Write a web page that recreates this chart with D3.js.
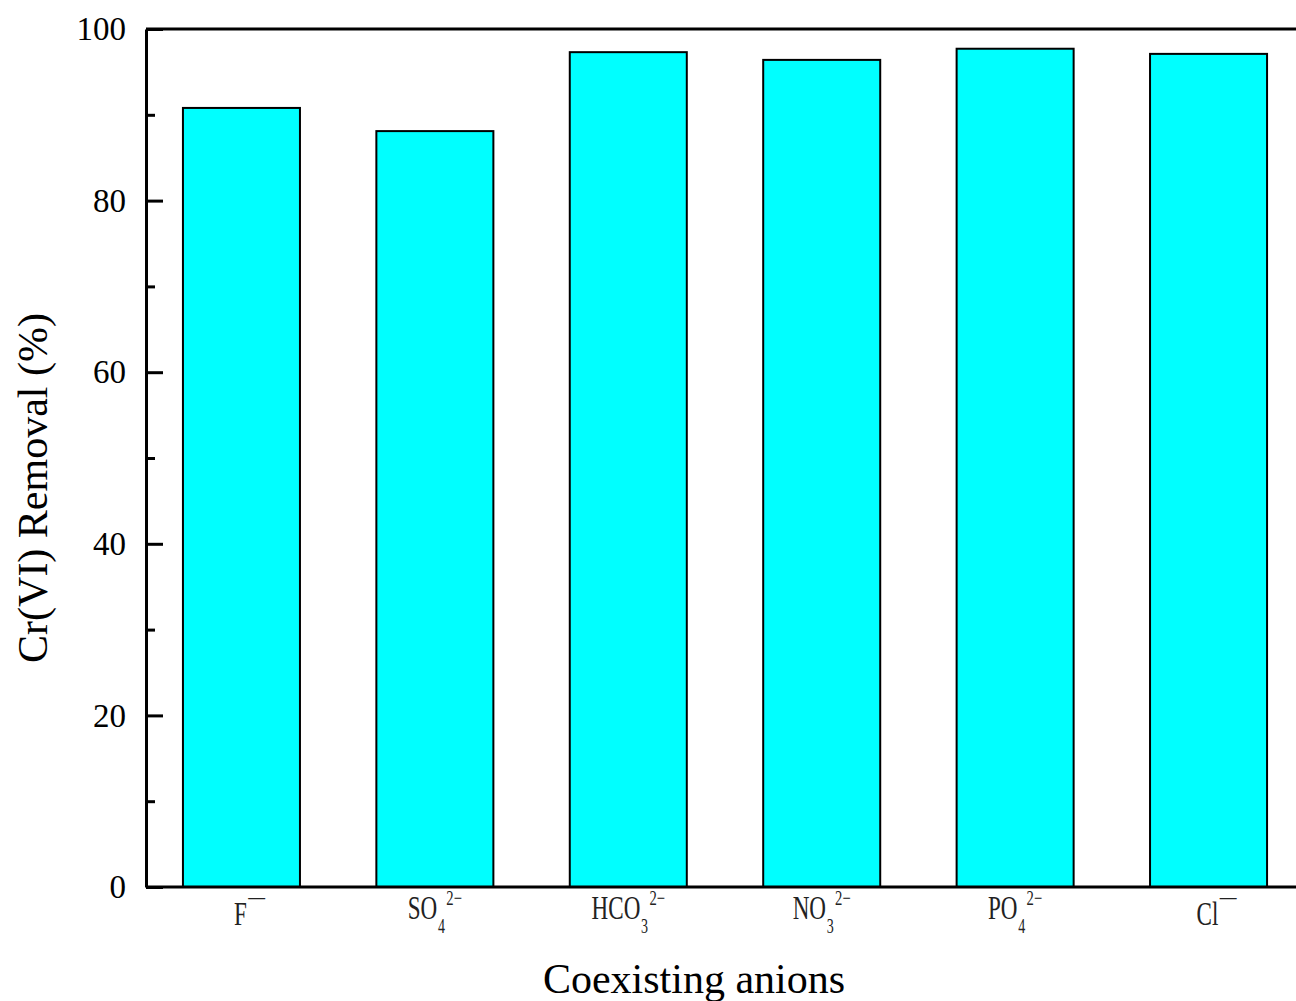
<!DOCTYPE html>
<html><head><meta charset="utf-8">
<script src="https://cdn.jsdelivr.net/npm/d3@7"></script>
<style>html,body{margin:0;padding:0;background:#fff;overflow:hidden}</style>
</head><body>
<script>
const categories = ["F", "SO4", "HCO3", "NO3", "PO4", "Cl"];
const labelBase = ["F", "SO", "HCO", "NO", "PO", "Cl"];
const labelSub = ["", "4", "3", "3", "4", ""];
const labelSup = ["\u2014", "2\u2212", "2\u2212", "2\u2212", "2\u2212", "\u2014"];
const removal = [90.8, 88.1, 97.3, 96.4, 97.7, 97.1];
const yMajorTicks = [0, 20, 40, 60, 80, 100];
const yMinorTicks = [10, 30, 50, 70, 90];

(function () {
const W = 1296, H = 1001;
const mLeft = 146, mTop = 29, mBottom = 887, mRight = 1304;
const svg = d3.select("body").append("svg").attr("width", W).attr("height", H);

const x = d3.scaleBand().domain(categories).range([mLeft, mRight]).paddingInner(0.395).paddingOuter(0.191);
const y = d3.scaleLinear().domain([0, 100]).range([mBottom, mTop]);

// bars
svg.append("g").selectAll("rect").data(categories).join("rect")
  .attr("x", d => x(d)).attr("width", x.bandwidth())
  .attr("y", (d, i) => y(removal[i])).attr("height", (d, i) => y(0) - y(removal[i]))
  .attr("fill", "#00ffff").attr("stroke", "#000").attr("stroke-width", 2);

// frame
svg.append("line").attr("x1", mLeft).attr("x2", mRight).attr("y1", mTop).attr("y2", mTop).attr("stroke", "#000").attr("stroke-width", 3);
svg.append("line").attr("x1", mLeft).attr("x2", mRight).attr("y1", mBottom).attr("y2", mBottom).attr("stroke", "#000").attr("stroke-width", 3);

// y axis (inward ticks)
const yAxis = d3.axisRight(y).tickValues(yMajorTicks).tickSize(17).tickSizeOuter(0).tickFormat("");
const gy = svg.append("g").attr("transform", `translate(${mLeft},0)`).call(yAxis);
gy.select(".domain").attr("stroke-width", 3);
gy.selectAll(".tick line").attr("stroke-width", 3);
const yMinor = d3.axisRight(y).tickValues(yMinorTicks).tickSize(9).tickFormat("");
const gym = svg.append("g").attr("transform", `translate(${mLeft},0)`).call(yMinor);
gym.select(".domain").remove();
gym.selectAll(".tick line").attr("stroke-width", 3);

// y tick labels
svg.append("g").selectAll("text").data(yMajorTicks).join("text")
  .attr("x", 126).attr("y", d => y(d)).attr("dy", "0.34em")
  .attr("text-anchor", "end").attr("font-family", "Liberation Serif").attr("font-size", 33)
  .text(d => d);

// category labels
const lg = svg.append("g").selectAll("g").data(categories).join("g")
  .attr("transform", (d, i) => `translate(${x(d) + x.bandwidth() / 2 + (labelSub[i] ? 0 : 8)},${labelSub[i] ? 919 : 925}) scale(0.7,1)`);
lg.each(function(d, i) {
  const t = d3.select(this).append("text").attr("text-anchor", "middle")
    .attr("font-family", "Liberation Serif").attr("font-size", 33).attr("fill", "#222");
  t.append("tspan").text(labelBase[i]);
  if (labelSub[i]) {
    t.append("tspan").attr("font-size", 20).attr("dy", 14).attr("dx", 1).text(labelSub[i]);
    t.append("tspan").attr("font-size", 21).attr("dy", -28).attr("dx", 2).text(labelSup[i]);
  } else {
    t.append("tspan").attr("font-size", 24).attr("dy", -21).attr("dx", 2).text(labelSup[i]);
  }
});

// axis titles
svg.append("text").attr("transform", `translate(47,${(mTop + mBottom) / 2 + 30}) rotate(-90)`)
  .attr("text-anchor", "middle").attr("font-family", "Liberation Serif").attr("font-size", 42)
  .text("Cr(VI) Removal (%)");
svg.append("text").attr("x", 694).attr("y", 993)
  .attr("text-anchor", "middle").attr("font-family", "Liberation Serif").attr("font-size", 42)
  .text("Coexisting anions");
})();
</script>
</body></html>
